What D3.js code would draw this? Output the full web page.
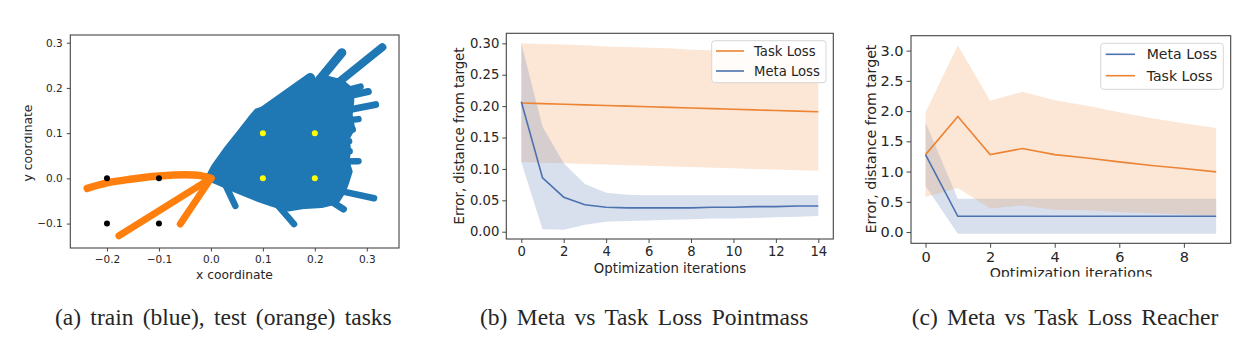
<!DOCTYPE html>
<html>
<head>
<meta charset="utf-8">
<script src="https://cdn.jsdelivr.net/npm/d3@7"></script>
<style>
  body { margin: 0; background: #fff; }
  svg { display: block; }
  text { font-family: "DejaVu Sans", sans-serif; fill: #262626; }
</style>
</head>
<body>
<svg id="chart" width="1259" height="349"></svg>
<script>
// ---------- panel (a): task positions ----------
const blueBody = [
  [-0.005, 0.004], [0.005, 0.026], [0.028, 0.063], [0.053, 0.099], [0.076, 0.133],
  [0.088, 0.149], [0.117, 0.160], [0.143, 0.186], [0.169, 0.204], [0.181, 0.208],
  [0.201, 0.215], [0.226, 0.221], [0.252, 0.213], [0.271, 0.195], [0.271, 0.169],
  [0.268, 0.140], [0.273, 0.110], [0.262, 0.088], [0.265, 0.063], [0.262, 0.037],
  [0.268, 0.015], [0.262, -0.007], [0.255, -0.029], [0.242, -0.052], [0.213, -0.060],
  [0.181, -0.062], [0.149, -0.068], [0.117, -0.057], [0.092, -0.047], [0.066, -0.035],
  [0.040, -0.023], [0.015, -0.010], [0.002, -0.004]
];
const blueRays = [
  [[0.098, 0.146], [0.191, 0.222]],
  [[0.175, 0.171], [0.252, 0.278]],
  [[0.239, 0.206], [0.330, 0.290]],
  [[0.245, 0.177], [0.303, 0.192]],
  [[0.245, 0.190], [0.288, 0.203]],
  [[0.245, 0.147], [0.317, 0.163]],
  [[0.250, 0.127], [0.284, 0.131]],
  [[0.245, 0.107], [0.273, 0.108]],
  [[0.240, 0.080], [0.266, 0.082]],
  [[0.226, 0.059], [0.267, 0.060]],
  [[0.239, 0.037], [0.284, 0.038]],
  [[0.226, -0.022], [0.314, -0.044]],
  [[0.213, -0.037], [0.255, -0.068]],
  [[0.117, -0.044], [0.160, -0.101]],
  [[0.028, -0.015], [0.047, -0.061]]
];
const rayWidths = [10, 9, 8, 7, 6.5, 7, 6.5, 6.5, 6.5, 6.5, 6.5, 6.5, 7, 6.5, 6.5];
const orangeTrajs = [
  [[-0.238, -0.022], [-0.2, -0.010], [-0.155, -0.002], [-0.1, 0.005], [-0.05, 0.008], [-0.02, 0.006], [0, 0]],
  [[-0.177, -0.127], [0, 0]],
  [[-0.059, -0.101], [0, 0]]
];
const testGoals = [[-0.2, 0], [-0.1, 0], [-0.2, -0.1], [-0.1, -0.1]];
const trainGoals = [[0.1, 0.1], [0.2, 0.1], [0.1, 0], [0.2, 0]];
const aTicksX = [-0.2, -0.1, 0.0, 0.1, 0.2, 0.3];
const aTicksY = [-0.1, 0.0, 0.1, 0.2, 0.3];

// ---------- panel (b): pointmass ----------
const itersB = [0, 1, 2, 3, 4, 5, 6, 7, 8, 9, 10, 11, 12, 13, 14];
const taskMeanB  = [0.205, 0.204, 0.203, 0.202, 0.201, 0.200, 0.199, 0.198, 0.197, 0.196, 0.195, 0.194, 0.193, 0.192, 0.191];
const taskUpperB = [0.300, 0.299, 0.298, 0.297, 0.295, 0.294, 0.293, 0.292, 0.290, 0.289, 0.288, 0.287, 0.286, 0.285, 0.284];
const taskLowerB = [0.111, 0.110, 0.109, 0.108, 0.107, 0.106, 0.105, 0.104, 0.103, 0.102, 0.101, 0.100, 0.099, 0.098, 0.097];
const metaMeanB  = [0.207, 0.086, 0.055, 0.043, 0.039, 0.038, 0.038, 0.038, 0.038, 0.039, 0.039, 0.040, 0.040, 0.041, 0.041];
const metaUpperB = [0.300, 0.167, 0.109, 0.076, 0.062, 0.059, 0.058, 0.058, 0.058, 0.058, 0.058, 0.058, 0.058, 0.058, 0.058];
const metaLowerB = [0.111, 0.004, 0.003, 0.011, 0.016, 0.017, 0.018, 0.019, 0.020, 0.021, 0.021, 0.022, 0.023, 0.024, 0.025];
const bTicksX = [0, 2, 4, 6, 8, 10, 12, 14];
const bTicksY = [0.00, 0.05, 0.10, 0.15, 0.20, 0.25, 0.30];

// ---------- panel (c): reacher ----------
const itersC = [0, 1, 2, 3, 4, 5, 6, 7, 8, 9];
const metaMeanC  = [1.28, 0.26, 0.26, 0.26, 0.26, 0.26, 0.26, 0.26, 0.26, 0.26];
const metaUpperC = [1.81, 0.55, 0.55, 0.55, 0.55, 0.55, 0.55, 0.55, 0.55, 0.55];
const metaLowerC = [0.76, -0.03, -0.03, -0.03, -0.03, -0.03, -0.03, -0.03, -0.03, -0.03];
const taskMeanC  = [1.28, 1.91, 1.28, 1.38, 1.28, 1.225, 1.16, 1.10, 1.05, 0.995];
const taskUpperC = [1.98, 3.09, 2.17, 2.32, 2.18, 2.09, 1.98, 1.88, 1.80, 1.72];
const taskLowerC = [0.58, 0.73, 0.39, 0.44, 0.37, 0.36, 0.33, 0.31, 0.29, 0.27];
const cTicksX = [0, 2, 4, 6, 8];
const cTicksY = [0.0, 0.5, 1.0, 1.5, 2.0, 2.5, 3.0];

const captions = [
  "(a) train (blue), test (orange) tasks",
  "(b) Meta vs Task Loss Pointmass",
  "(c) Meta vs Task Loss Reacher"
];

const BLUE = "#1f77b4", ORANGE = "#ff7f0e";
const LBLUE = "#4c72b0", LORANGE = "#ec8434";
const FBLUE = "#4c72b0", FORANGE = "#f0904a";

const svg = d3.select("#chart");
const minus = s => s.replace("-", "\u2212");

function drawAxes(g, x, y, o) {
  const xa = g.append("g").attr("transform", `translate(0,${y.range()[0]})`)
    .call(d3.axisBottom(x).tickValues(o.tx).tickFormat(o.fx).tickSize(o.tick).tickPadding(o.padX));
  const ya = g.append("g").attr("transform", `translate(${x.range()[0]},0)`)
    .call(d3.axisLeft(y).tickValues(o.ty).tickFormat(o.fy).tickSize(o.tick).tickPadding(o.padY));
  [xa, ya].forEach(a => {
    a.select(".domain").remove();
    a.selectAll("line").attr("stroke", "#333").attr("stroke-width", 0.9);
    a.selectAll("text").style("font-size", o.font + "px").attr("fill", "#262626");
  });
  g.append("rect")
    .attr("x", x.range()[0]).attr("y", y.range()[1])
    .attr("width", x.range()[1] - x.range()[0]).attr("height", y.range()[0] - y.range()[1])
    .attr("fill", "none").attr("stroke", "#444").attr("stroke-width", 1.1);
}

// ================= panel (a) =================
{
  const x = d3.scaleLinear().domain([-0.2706, 0.362]).range([70.3, 399]);
  const y = d3.scaleLinear().domain([-0.154, 0.317]).range([248, 35]);
  const g = svg.append("g");
  g.append("clipPath").attr("id", "clipA").append("rect")
    .attr("x", 70.3).attr("y", 35).attr("width", 328.7).attr("height", 213);
  const plot = g.append("g").attr("clip-path", "url(#clipA)");
  const line = d3.line().x(d => x(d[0])).y(d => y(d[1]));

  plot.append("path").datum(blueBody)
    .attr("d", line.curve(d3.curveLinearClosed))
    .attr("fill", BLUE).attr("stroke", BLUE).attr("stroke-width", 5).attr("stroke-linejoin", "round");
  line.curve(d3.curveLinear);
  plot.selectAll(".bray").data(blueRays).join("path")
    .attr("d", line).attr("fill", "none").attr("stroke", BLUE)
    .attr("stroke-width", (d, i) => rayWidths[i]).attr("stroke-linecap", "round");
  const curved = d3.line().x(d => x(d[0])).y(d => y(d[1])).curve(d3.curveCatmullRom);
  plot.selectAll(".oray").data(orangeTrajs).join("path")
    .attr("d", curved).attr("fill", "none").attr("stroke", ORANGE)
    .attr("stroke-width", (d, i) => i === 0 ? 7.5 : 7).attr("stroke-linecap", "round")
    .attr("stroke-linejoin", "round");
  plot.selectAll(".tg").data(testGoals).join("circle")
    .attr("cx", d => x(d[0])).attr("cy", d => y(d[1])).attr("r", 3).attr("fill", "#000");
  plot.selectAll(".trg").data(trainGoals).join("circle")
    .attr("cx", d => x(d[0])).attr("cy", d => y(d[1])).attr("r", 3).attr("fill", "#ffff00");

  drawAxes(g, x, y, {
    tx: aTicksX, ty: aTicksY, fx: d => minus(d3.format(".1f")(d)), fy: d => minus(d3.format(".1f")(d)),
    tick: 3.5, padX: 4, padY: 4, font: 10.5
  });
  g.append("text").attr("x", 234.5).attr("y", 279).attr("text-anchor", "middle")
    .style("font-size", "12.3px").text("x coordinate");
  g.append("clipPath").attr("id", "clipAy").append("rect")
    .attr("x", 24.5).attr("y", 0).attr("width", 40).attr("height", 349);
  g.append("g").attr("clip-path", "url(#clipAy)")
    .append("text")
    .attr("transform", "translate(31.5,143) rotate(-90)").attr("text-anchor", "middle")
    .style("font-size", "12.3px").text("y coordinate");
}

// ================= line panels =================
function linePanel(p) {
  const x = d3.scaleLinear().domain(p.xd).range([p.l, p.r]);
  const y = d3.scaleLinear().domain(p.yd).range([p.b, p.t]);
  const g = svg.append("g");
  const area = d3.area().x((d, i) => x(p.iters[i])).y0(d => y(d[0])).y1(d => y(d[1]));
  const line = d3.line().x((d, i) => x(p.iters[i])).y(d => y(d));
  p.series.forEach(s => {
    g.append("path").datum(s.lo.map((v, i) => [v, s.hi[i]]))
      .attr("d", area).attr("fill", s.fill).attr("fill-opacity", 0.22);
  });
  p.series.forEach(s => {
    g.append("path").datum(s.mean).attr("d", line)
      .attr("fill", "none").attr("stroke", s.color).attr("stroke-width", 1.6);
  });
  drawAxes(g, x, y, p.axis);

  // legend
  const lg = g.append("g");
  lg.append("rect").attr("x", p.leg.x).attr("y", p.leg.y).attr("width", p.leg.w).attr("height", p.leg.h)
    .attr("rx", 3).attr("fill", "#fff").attr("fill-opacity", 0.85)
    .attr("stroke", "#d6d6d6").attr("stroke-width", 1);
  p.series.forEach((s, i) => {
    const cy = p.leg.rows[i];
    lg.append("line").attr("x1", p.leg.l0).attr("x2", p.leg.l1).attr("y1", cy).attr("y2", cy)
      .attr("stroke", s.color).attr("stroke-width", 1.6);
    lg.append("text").attr("x", p.leg.tx).attr("y", cy).attr("dy", "0.36em")
      .style("font-size", p.leg.font + "px").text(s.name);
  });

  g.append("text").attr("x", p.xl.x).attr("y", p.xl.y).attr("text-anchor", "middle")
    .attr("clip-path", p.xl.clip ? `url(#${p.xl.clip})` : null)
    .style("font-size", p.lf + "px").text("Optimization iterations");
  g.append("text").attr("transform", `translate(${p.yl.x},${p.yl.y}) rotate(-90)`)
    .attr("text-anchor", "middle").style("font-size", p.lf + "px").text("Error, distance from target");
}

linePanel({
  iters: itersB, xd: [-0.707, 14.707], yd: [-0.0116, 0.316],
  l: 506.3, r: 833.3, t: 33.3, b: 239,
  series: [
    { name: "Task Loss", mean: taskMeanB, lo: taskLowerB, hi: taskUpperB, color: LORANGE, fill: FORANGE },
    { name: "Meta Loss", mean: metaMeanB, lo: metaLowerB, hi: metaUpperB, color: LBLUE, fill: FBLUE }
  ],
  axis: { tx: bTicksX, ty: bTicksY, fx: d3.format("d"), fy: d3.format(".2f"), tick: 4, padX: 4, padY: 3, font: 13.2 },
  leg: { x: 711.7, y: 40.7, w: 114.3, h: 42, rows: [51, 71], l0: 716, l1: 744, tx: 754, font: 13.2 },
  xl: { x: 670, y: 272.5 }, yl: { x: 464, y: 136 }, lf: 13.3
});

svg.append("clipPath").attr("id", "clipCx").append("rect")
  .attr("x", 900).attr("y", 250).attr("width", 340).attr("height", 26.7);

linePanel({
  iters: itersC, xd: [-0.45, 9.45], yd: [-0.186, 3.246],
  l: 911, r: 1230.7, t: 35.7, b: 243.3,
  series: [
    { name: "Meta Loss", mean: metaMeanC, lo: metaLowerC, hi: metaUpperC, color: LBLUE, fill: FBLUE },
    { name: "Task Loss", mean: taskMeanC, lo: taskLowerC, hi: taskUpperC, color: LORANGE, fill: FORANGE }
  ],
  axis: { tx: cTicksX, ty: cTicksY, fx: d3.format("d"), fy: d3.format(".1f"), tick: 4.5, padX: 4, padY: 3, font: 14.5 },
  leg: { x: 1100.7, y: 43.3, w: 122.6, h: 46, rows: [54.3, 75.7], l0: 1105.7, l1: 1135, tx: 1146.7, font: 14.1 },
  xl: { x: 1071, y: 278, clip: "clipCx" }, yl: { x: 875.7, y: 139 }, lf: 14.2
});

// ---------- captions (Times-like, justified with word spacing) ----------
const capPos = [[55, 391.7], [480, 808.3], [911.7, 1218.3]];
svg.selectAll(".cap").data(captions).join("text")
  .attr("class", "cap")
  .attr("x", (d, i) => capPos[i][0]).attr("y", 325)
  .style("font-family", '"Liberation Serif", "Times New Roman", serif')
  .style("font-size", "23.5px").attr("fill", "#111").text(d => d)
  .each(function (d, i) {
    const target = capPos[i][1] - capPos[i][0];
    const natural = this.getComputedTextLength();
    const spaces = d.split(" ").length - 1;
    if (natural < target) d3.select(this).style("word-spacing", ((target - natural) / spaces) + "px");
    else d3.select(this).attr("textLength", target).attr("lengthAdjust", "spacingAndGlyphs");
  });
</script>
</body>
</html>
